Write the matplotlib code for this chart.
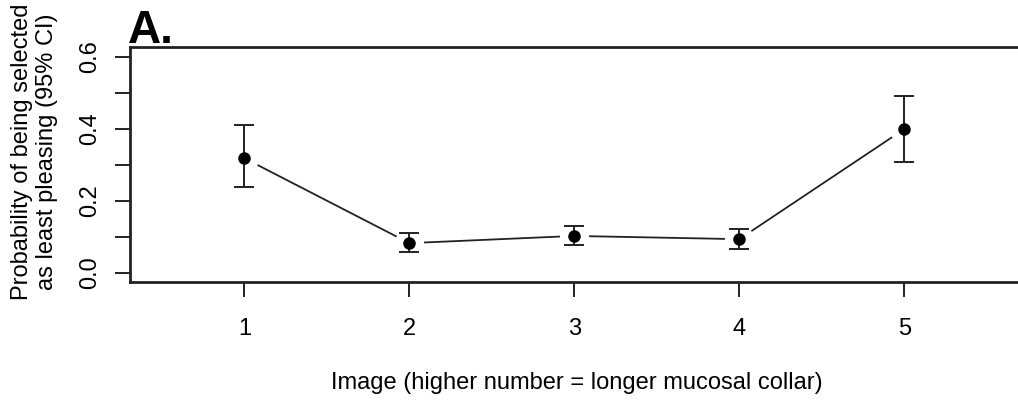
import numpy as np
import matplotlib.pyplot as plt

plt.rcParams['font.family'] = ['Liberation Sans', 'DejaVu Sans']

# ----------------------------
# data
# ----------------------------
images = [1, 2, 3, 4, 5]
prob = [0.319, 0.083, 0.103, 0.094, 0.400]
ci_low = [0.239, 0.058, 0.078, 0.067, 0.308]
ci_high = [0.410, 0.111, 0.130, 0.122, 0.492]
y_ticks = [0.0, 0.1, 0.2, 0.3, 0.4, 0.5, 0.6]
y_labels = ["0.0", "", "0.2", "", "0.4", "", "0.6"]

fig = plt.figure(figsize=(10.18, 4.05), dpi=100)
ax = fig.add_axes([0.1277, 0.3037, 0.8773, 0.5803])

x = np.array(images)
y = np.array(prob)
lo = y - np.array(ci_low)
hi = np.array(ci_high) - y

# R type="b": segments with gaps around the points
ax.plot(x, y, color="#222222", lw=1.3, zorder=1)
ax.plot(x, y, "o", ms=20, color="white", mec="white", zorder=2)
ax.errorbar(x, y, yerr=[lo, hi], fmt="none", ecolor="#222222",
            elinewidth=1.4, capsize=7.5, capthick=1.4, zorder=3)
ax.plot(x, y, "o", ms=8, color="black", zorder=4)

ax.set_xlim(0.307, 5.72)
ax.set_ylim(-0.025, 0.628)

ax.set_xticks(images)
ax.set_xticklabels([str(i) for i in images], fontsize=17)
ax.set_yticks(y_ticks)
ax.set_yticklabels(y_labels, fontsize=17, rotation=90, va="center")
ax.tick_params(axis="both", length=10.5, width=1.4, color="#222222")
ax.tick_params(axis="x", pad=15.5)
ax.tick_params(axis="y", pad=10)

for s in ax.spines.values():
    s.set_linewidth(2)
    s.set_color("#222222")

ax.set_xlabel("Image (higher number = longer mucosal collar)", fontsize=17, labelpad=23)
ax.set_ylabel("Probability of being selected\nas least pleasing (95% CI)", fontsize=17,
              linespacing=1.15)
ax.yaxis.set_label_coords(-0.081, 0.553)

fig.text(0.126, 0.893, "A.", fontsize=33, fontweight="bold", ha="left", va="baseline")

plt.savefig("out.png", dpi=100)
